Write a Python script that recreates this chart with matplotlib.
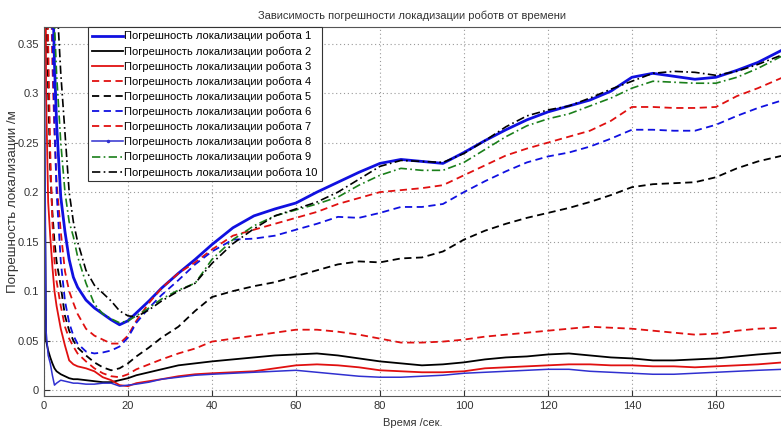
import numpy as np
import matplotlib
matplotlib.use('Agg')
from matplotlib import pyplot as plt

plt.rcParams['font.family'] = ['Liberation Sans', 'DejaVu Sans']

# время, сек
time = [0, 0.5, 1, 1.5, 2, 2.5, 3, 4, 5, 6, 7, 8, 10, 12, 14, 16, 18, 20, 22, 25,
        28, 32, 36, 40, 45, 50, 55, 60, 65, 70, 75, 80, 85, 90, 95, 100, 105, 110,
        115, 120, 125, 130, 135, 140, 145, 150, 155, 160, 165, 170, 176]

# погрешность локализации, м
robot1 = [1.2, 0.95, 0.75, 0.55, 0.42, 0.33, 0.27, 0.195, 0.16, 0.132, 0.114, 0.104,
          0.091, 0.083, 0.077, 0.071, 0.066, 0.07, 0.078, 0.09, 0.103, 0.118, 0.132,
          0.147, 0.164, 0.176, 0.183, 0.189, 0.2, 0.21, 0.22, 0.229, 0.233, 0.231,
          0.229, 0.24, 0.252, 0.263, 0.273, 0.281, 0.287, 0.293, 0.302, 0.316, 0.32,
          0.317, 0.314, 0.316, 0.323, 0.331, 0.344]
robot2 = [0.3, 0.05, 0.04, 0.033, 0.027, 0.022, 0.019, 0.016, 0.014, 0.012, 0.011,
          0.011, 0.01, 0.009, 0.008, 0.008, 0.01, 0.012, 0.015, 0.018, 0.021, 0.025,
          0.027, 0.029, 0.031, 0.033, 0.035, 0.036, 0.037, 0.035, 0.032, 0.029,
          0.027, 0.025, 0.026, 0.028, 0.031, 0.033, 0.034, 0.036, 0.037, 0.035,
          0.033, 0.032, 0.03, 0.03, 0.031, 0.032, 0.034, 0.036, 0.038]
robot3 = [1.0, 0.3, 0.19, 0.155, 0.125, 0.1, 0.085, 0.062, 0.045, 0.03, 0.026, 0.024,
          0.022, 0.019, 0.013, 0.01, 0.005, 0.004, 0.007, 0.009, 0.011, 0.014, 0.016,
          0.017, 0.018, 0.019, 0.022, 0.025, 0.026, 0.025, 0.023, 0.02, 0.019, 0.018,
          0.018, 0.019, 0.022, 0.023, 0.024, 0.025, 0.026, 0.026, 0.025, 0.025,
          0.024, 0.024, 0.023, 0.024, 0.025, 0.026, 0.028]
robot4 = [1.2, 0.9, 0.6, 0.45, 0.33, 0.26, 0.21, 0.16, 0.12, 0.1, 0.088, 0.077, 0.062,
          0.055, 0.051, 0.047, 0.047, 0.055, 0.07, 0.088, 0.103, 0.118, 0.129, 0.142,
          0.156, 0.162, 0.168, 0.174, 0.18, 0.188, 0.194, 0.2, 0.202, 0.204, 0.207,
          0.217, 0.227, 0.237, 0.244, 0.25, 0.256, 0.262, 0.272, 0.286, 0.286, 0.285,
          0.285, 0.286, 0.297, 0.305, 0.316]
robot5 = [1.0, 0.45, 0.3, 0.22, 0.18, 0.15, 0.13, 0.105, 0.075, 0.06, 0.05, 0.043,
          0.035, 0.028, 0.023, 0.02, 0.022, 0.027, 0.034, 0.043, 0.053, 0.064, 0.08,
          0.094, 0.1, 0.105, 0.109, 0.115, 0.121, 0.127, 0.13, 0.129, 0.133, 0.134,
          0.14, 0.152, 0.161, 0.168, 0.174, 0.179, 0.184, 0.19, 0.197, 0.205, 0.208,
          0.209, 0.21, 0.215, 0.224, 0.231, 0.237]
robot6 = [1.2, 0.8, 0.6, 0.45, 0.36, 0.27, 0.2, 0.13, 0.09, 0.068, 0.055, 0.047, 0.039,
          0.037, 0.038, 0.04, 0.044, 0.053, 0.068, 0.083, 0.096, 0.111, 0.127, 0.14,
          0.152, 0.153, 0.156, 0.162, 0.168, 0.175, 0.174, 0.179, 0.185, 0.185, 0.188,
          0.2, 0.211, 0.221, 0.23, 0.236, 0.24, 0.246, 0.254, 0.263, 0.263, 0.262,
          0.262, 0.268, 0.277, 0.285, 0.293]
robot7 = [1.0, 0.55, 0.35, 0.24, 0.17, 0.13, 0.11, 0.085, 0.064, 0.052, 0.044, 0.037,
          0.029, 0.022, 0.017, 0.014, 0.013, 0.016, 0.021, 0.026, 0.031, 0.037, 0.042,
          0.049, 0.052, 0.055, 0.058, 0.061, 0.061, 0.059, 0.056, 0.052, 0.048, 0.048,
          0.049, 0.051, 0.054, 0.056, 0.058, 0.06, 0.062, 0.064, 0.063, 0.062, 0.06,
          0.058, 0.056, 0.057, 0.06, 0.062, 0.063]
robot8 = [0.4, 0.06, 0.035, 0.027, 0.015, 0.005, 0.007, 0.01, 0.009, 0.008, 0.007,
          0.007, 0.006, 0.006, 0.007, 0.007, 0.004, 0.005, 0.006, 0.008, 0.011, 0.013,
          0.015, 0.016, 0.017, 0.018, 0.019, 0.02, 0.018, 0.016, 0.014, 0.013, 0.013,
          0.014, 0.015, 0.017, 0.018, 0.019, 0.02, 0.021, 0.021, 0.019, 0.018, 0.017,
          0.016, 0.016, 0.017, 0.018, 0.019, 0.02, 0.021]
robot9 = [1.2, 1.0, 0.8, 0.6, 0.45, 0.37, 0.32, 0.25, 0.2, 0.17, 0.155, 0.135, 0.108,
          0.087, 0.077, 0.072, 0.068, 0.07, 0.075, 0.083, 0.092, 0.101, 0.108, 0.132,
          0.152, 0.166, 0.176, 0.182, 0.188, 0.195, 0.207, 0.217, 0.224, 0.222, 0.222,
          0.23, 0.243, 0.256, 0.267, 0.274, 0.279, 0.287, 0.295, 0.305, 0.312, 0.311,
          0.31, 0.31, 0.316, 0.325, 0.338]
robot10 = [1.2, 1.1, 0.9, 0.75, 0.6, 0.48, 0.4, 0.32, 0.26, 0.2, 0.17, 0.15, 0.121,
           0.106, 0.098, 0.09, 0.08, 0.075, 0.074, 0.081, 0.09, 0.1, 0.108, 0.128,
           0.148, 0.163, 0.176, 0.183, 0.19, 0.2, 0.213, 0.226, 0.232, 0.231, 0.23,
           0.239, 0.252, 0.266, 0.277, 0.283, 0.287, 0.295, 0.304, 0.312, 0.32, 0.322,
           0.321, 0.318, 0.322, 0.329, 0.339]

blue = '#1010e0'
green = '#1a7f1a'

fig = plt.figure(figsize=(7.81, 4.3), dpi=100)
ax = fig.add_axes([0.0563, 0.079, 0.9437, 0.858])

label = 'Погрешность локализации робота %d'
ax.plot(time, robot1, color=blue, lw=2.0, label=label % 1)
ax.plot(time, robot2, color='k', lw=1.3, label=label % 2)
ax.plot(time, robot3, color='#e01010', lw=1.3, label=label % 3)
ax.plot(time, robot4, color='#e01010', lw=1.3, ls=(0, (4, 2.5)), label=label % 4)
ax.plot(time, robot5, color='k', lw=1.3, ls=(0, (4, 2.5)), label=label % 5)
ax.plot(time, robot6, color=blue, lw=1.3, ls=(0, (4, 2.5)), label=label % 6)
ax.plot(time, robot7, color='#e01010', lw=1.3, ls=(0, (4, 2.5)), label=label % 7)
ax.plot(time, robot8, color='#3030d0', lw=1.1, marker='.', markersize=3,
        markevery=[0], label=label % 8)
ax.plot(time, robot9, color=green, lw=1.2, ls=(0, (5, 2, 1, 2)), label=label % 9)
ax.plot(time, robot10, color='k', lw=1.2, ls=(0, (5, 2, 1, 2)), label=label % 10)

ax.set_xlim(0, 175.5)
ax.set_ylim(-0.006, 0.3667)
ax.set_xticks(np.arange(0, 161, 20))
ax.set_yticks([0, 0.05, 0.1, 0.15, 0.2, 0.25, 0.3, 0.35])
ax.set_yticklabels(['0', '0.05', '0.1', '0.15', '0.2', '0.25', '0.3', '0.35'])
ax.tick_params(direction='in', labelsize=8, colors='#333333', length=4)
ax.grid(True, ls=(0, (1, 2.5)), color='#999999', lw=0.8)
for s in ['left', 'bottom', 'top']:
    ax.spines[s].set_color('#555555')
ax.spines['right'].set_visible(False)

ax.set_title('Зависимость погрешности локадизации роботв от времени',
             fontsize=8, color='#333333', pad=6)
ax.set_xlabel('Время /сек.', fontsize=8, color='#333333', labelpad=5)
ax.set_ylabel('Погрешность локализации /м', fontsize=9.6, color='#333333')
ax.yaxis.set_label_coords(-0.034, 0.528)

leg = ax.legend(loc='upper left', bbox_to_anchor=(0.06, 1.0), fontsize=8,
                frameon=True, fancybox=False, edgecolor='#333333', framealpha=1,
                handlelength=2.8, labelspacing=0.42, borderaxespad=0,
                borderpad=0.35, handletextpad=0.1)
leg.get_frame().set_linewidth(0.8)

plt.savefig('out.png', dpi=100)
